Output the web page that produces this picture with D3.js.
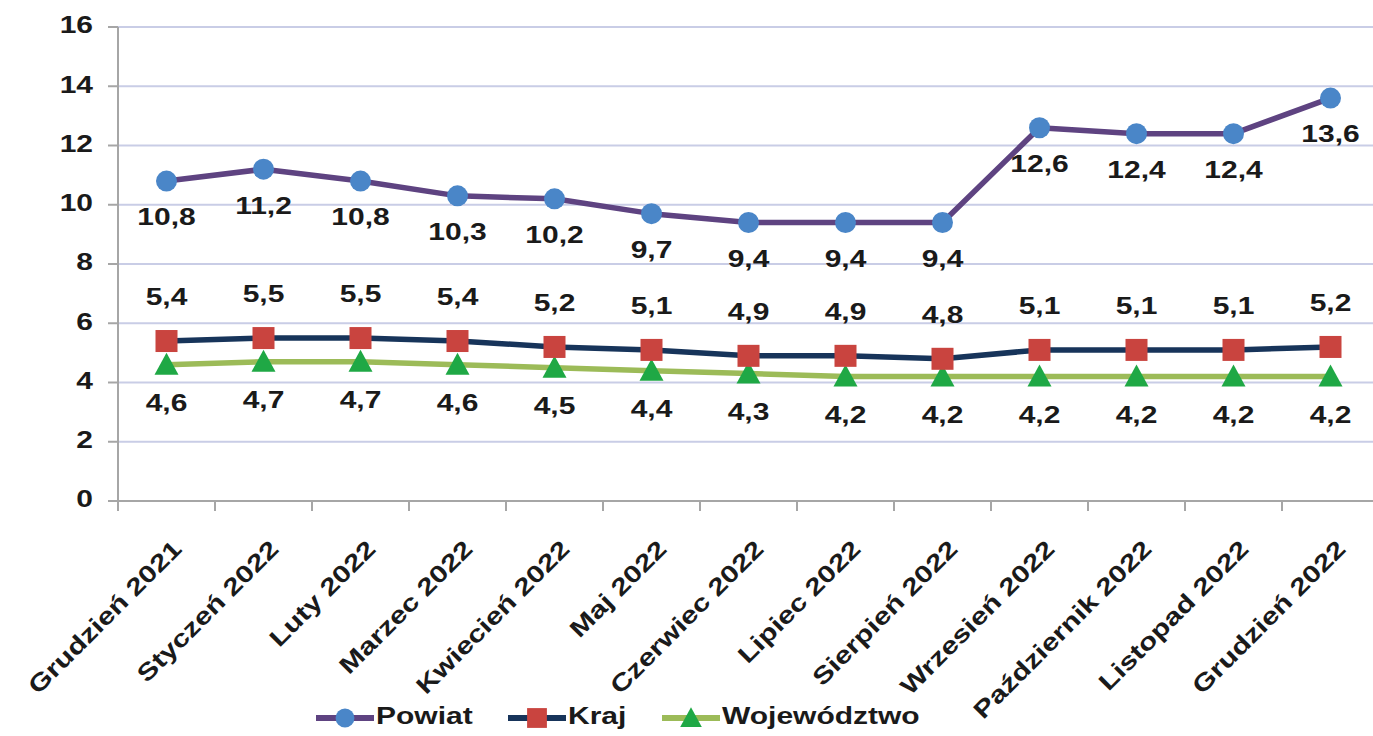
<!DOCTYPE html>
<html><head><meta charset="utf-8">
<script src="https://cdn.jsdelivr.net/npm/d3@7"></script>
<style>body{margin:0;background:#fff}svg{display:block}text{font-family:"Liberation Sans",Arial,sans-serif;font-weight:bold;fill:#1a1a1a}</style>
</head><body>
<svg id="c" width="1373" height="736"></svg>
<script>
const categories = ["Grudzień 2021","Styczeń 2022","Luty 2022","Marzec 2022","Kwiecień 2022","Maj 2022","Czerwiec 2022","Lipiec 2022","Sierpień 2022","Wrzesień 2022","Październik 2022","Listopad 2022","Grudzień 2022"];
const powiat = [10.8,11.2,10.8,10.3,10.2,9.7,9.4,9.4,9.4,12.6,12.4,12.4,13.6];
const kraj = [5.4,5.5,5.5,5.4,5.2,5.1,4.9,4.9,4.8,5.1,5.1,5.1,5.2];
const wojewodztwo = [4.6,4.7,4.7,4.6,4.5,4.4,4.3,4.2,4.2,4.2,4.2,4.2,4.2];
const yTicks = [0,2,4,6,8,10,12,14,16];
const seriesNames = ["Powiat","Kraj","Województwo"];

const svg = d3.select("#c");
const x0 = 118, bw = 97;
const x = d3.scaleBand().domain(categories).range([x0, x0 + bw*categories.length]);
const y = d3.scaleLinear().domain([0,16]).range([501,27]);
const cx = c => x(c) + x.bandwidth()/2;
const SX = 1.25;
function label(g, tx, ty, str, anchor, rot){
  return g.append("text").attr("transform", `translate(${tx},${ty})` + (rot ? ` rotate(${rot})` : "") + ` scale(${SX},1)`)
    .attr("text-anchor", anchor).attr("dominant-baseline","middle").style("font-size","24px").text(str);
}

// gridlines
svg.append("g").selectAll("line").data(yTicks.filter(d=>d>0)).join("line")
  .attr("x1", x0).attr("x2", 1373).attr("y1", d=>y(d)).attr("y2", d=>y(d))
  .attr("stroke","#c9cde6").attr("stroke-width",2);

// y axis
const ya = svg.append("g");
ya.append("line").attr("x1",x0).attr("x2",x0).attr("y1",y(16)).attr("y2",y(0)).attr("stroke","#a6a6a6").attr("stroke-width",2);
ya.selectAll("line.t").data(yTicks).join("line").attr("class","t")
  .attr("x1",108).attr("x2",x0).attr("y1",d=>y(d)).attr("y2",d=>y(d)).attr("stroke","#a6a6a6").attr("stroke-width",2);
yTicks.forEach(t => label(ya, 93, y(t), String(t), "end"));

// x axis
const xa = svg.append("g");
xa.append("line").attr("x1",x0).attr("x2",1373).attr("y1",y(0)).attr("y2",y(0)).attr("stroke","#a6a6a6").attr("stroke-width",2);
const bounds = d3.range(categories.length+1).map(i => x0 + i*x.step());
xa.selectAll("line.t").data(bounds).join("line").attr("class","t")
  .attr("x1",d=>d).attr("x2",d=>d).attr("y1",y(0)).attr("y2",y(0)+10).attr("stroke","#a6a6a6").attr("stroke-width",2);
categories.forEach(c => label(xa, cx(c)+12, 546, c, "end", -45));

const fmt = v => String(v).replace(".", ",");
const series = [
  {name:seriesNames[0], data:powiat, line:"#5e4381", fill:"#4a86c8", shape:"circle", off:38},
  {name:seriesNames[1], data:kraj, line:"#17345a", fill:"#c9443f", shape:"square", off:-42},
  {name:seriesNames[2], data:wojewodztwo, line:"#9cbb58", fill:"#1fa845", shape:"triangle", off:40}
];
function marker(g, px, py, s, k){
  k = k || 1;
  if(s.shape==="circle") g.append("circle").attr("cx",px).attr("cy",py).attr("r",10.5*k).attr("fill",s.fill);
  else if(s.shape==="square") g.append("rect").attr("x",px-11*k).attr("y",py-11*k).attr("width",22*k).attr("height",22*k).attr("fill",s.fill);
  else g.append("path").attr("d",`M${px},${py-12*k}L${px+12*k},${py+10*k}L${px-12*k},${py+10*k}Z`).attr("fill",s.fill);
}
const lineGen = d3.line().x((d,i)=>cx(categories[i])).y(d=>y(d));
[series[2], series[1], series[0]].forEach(s => {
  const g = svg.append("g");
  g.append("path").attr("d", lineGen(s.data)).attr("fill","none").attr("stroke",s.line).attr("stroke-width",5.5).attr("stroke-linejoin","round");
  s.data.forEach((v,i)=> marker(g, cx(categories[i]), y(v), s));
});
series.forEach(s => {
  const g = svg.append("g");
  s.data.forEach((v,i)=> label(g, cx(categories[i]), y(v)+s.off, fmt(v), "middle"));
});

// legend
const lg = svg.append("g");
const legX = [316, 508, 662];
series.forEach((s,i)=>{
  const lx = legX[i], ly = 718;
  lg.append("line").attr("x1",lx).attr("x2",lx+58).attr("y1",ly).attr("y2",ly).attr("stroke",s.line).attr("stroke-width",6);
  marker(lg, lx+29, ly, s, 0.9);
  label(lg, lx+60, ly, s.name, "start");
});
</script>
</body></html>
